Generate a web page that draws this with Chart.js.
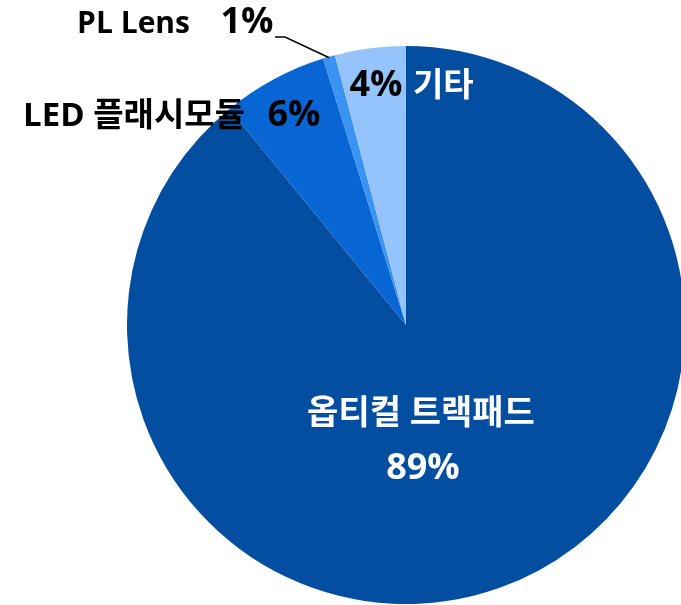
<!DOCTYPE html>
<html><head><meta charset="utf-8">
<script src="https://cdn.jsdelivr.net/npm/chart.js@4/dist/chart.umd.min.js"></script>
<style>
html,body{margin:0;padding:0;background:#fff;overflow:hidden;width:681px;height:605px;}
#wrap{position:absolute;left:0;top:0;width:686px;height:605px;}
</style></head><body>
<div id="wrap"><canvas id="c" width="686" height="605"></canvas></div>
<script>
const categories = ['옵티컬 트랙패드', 'LED 플래시모듈', 'PL Lens', '기타'];
const values = [89.1, 6.1, 0.7, 4.1];
const percentLabels = ['89%', '6%', '1%', '4%'];
const colors = ['#044ea1', '#0866d4', '#3a93f3', '#94c4fb'];

const FONT = '"Open Sans", "Noto Sans CJK KR", sans-serif';

const labelPlugin = {
  id: 'labels',
  afterDraw(chart) {
    const ctx = chart.ctx;
    const arcs = chart.getDatasetMeta(0).data;
    const cx = arcs[0].x, cy = arcs[0].y, R = arcs[0].outerRadius;
    ctx.save();
    ctx.textBaseline = 'middle';
    // Optical trackpad (inside, white)
    ctx.fillStyle = '#ffffff';
    ctx.textAlign = 'center';
    ctx.font = 'bold 34px ' + FONT;
    ctx.fillText(categories[0], cx + 15, cy + 89);
    ctx.font = 'bold 36px ' + FONT;
    ctx.fillText(percentLabels[0], cx + 17, cy + 144);
    // 기타 slice
    ctx.fillStyle = '#000000';
    ctx.font = 'bold 36px ' + FONT;
    ctx.fillText(percentLabels[3], cx - 30, cy - 239);
    ctx.fillStyle = '#ffffff';
    ctx.font = 'bold 33px ' + FONT;
    ctx.textAlign = 'left';
    ctx.fillText(categories[3], cx + 7, cy - 238);
    // LED
    ctx.fillStyle = '#000000';
    ctx.textAlign = 'right';
    ctx.font = 'bold 33px ' + FONT;
    ctx.fillText(categories[1], cx - 161, cy - 208);
    ctx.textAlign = 'center';
    ctx.font = 'bold 36px ' + FONT;
    ctx.fillText(percentLabels[1], cx - 112, cy - 209);
    // PL Lens
    ctx.textAlign = 'right';
    ctx.font = 'bold 30px ' + FONT;
    ctx.fillText(categories[2], cx - 216, cy - 301);
    ctx.textAlign = 'center';
    ctx.font = 'bold 36px ' + FONT;
    ctx.fillText(percentLabels[2], cx - 159, cy - 302);
    // leader line to PL Lens slice
    const a = arcs[2];
    const mid = (a.startAngle + a.endAngle) / 2;
    const px = cx + Math.cos(mid) * (R - 1), py = cy + Math.sin(mid) * (R - 1);
    ctx.strokeStyle = '#000000';
    ctx.lineWidth = 1.5;
    ctx.beginPath();
    ctx.moveTo(cx - 131, cy - 288);
    ctx.lineTo(cx - 121, cy - 288);
    ctx.lineTo(px, py);
    ctx.stroke();
    ctx.restore();
  }
};

new Chart(document.getElementById('c'), {
  type: 'pie',
  data: {
    labels: categories,
    datasets: [{
      data: values,
      backgroundColor: colors,
      borderWidth: 0
    }]
  },
  options: {
    responsive: false,
    animation: false,
    layout: { padding: { left: 127, top: 46, right: 1, bottom: 1 } },
    plugins: { legend: { display: false }, tooltip: { enabled: false } }
  },
  plugins: [labelPlugin]
});
</script>
</body></html>
